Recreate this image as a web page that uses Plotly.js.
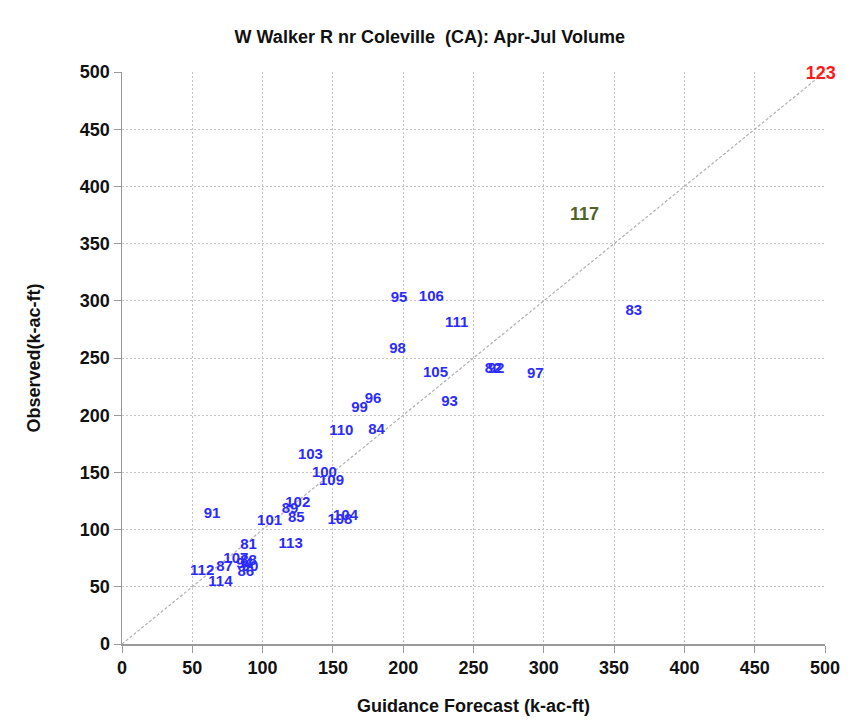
<!DOCTYPE html>
<html>
<head>
<meta charset="utf-8">
<script src="https://cdn.plot.ly/plotly-3.0.1.min.js"></script>
<style>
html,body{margin:0;padding:0;background:#fff;}
#chart{width:851px;height:728px;}
</style>
</head>
<body>
<div id="chart"></div>
<script>
// Water years (labels), guidance forecast (x) and observed (y), k-ac-ft
const yearLabels = ["81","82","83","84","85","86","87","88","89","90","91","92","93","94","95","96","97","98","99","100","101","102","103","104","105","106","107","108","109","110","111","112","113","114","117","123"];
const forecast   = [90, 264, 364, 181, 124, 88, 73, 90, 119.5, 91, 64, 266, 233, 87, 197, 178.5, 294, 196, 169, 144, 105, 125, 134, 159, 223, 220, 81, 155, 149, 156, 238, 57, 120, 70, 329, 497];
const observed   = [86.5, 240, 291, 187, 110, 63, 67, 72, 118, 67, 113, 240, 211, 70, 302, 214, 236, 258, 206, 149, 107.5, 123, 165, 112, 237, 303, 74, 108, 142, 186, 280, 64, 87, 54, 375, 498];
const labelColors = yearLabels.map(l => l === "123" ? "#ff1a1a" : (l === "117" ? "#4f6228" : "#2b2bff"));
const labelSizes  = yearLabels.map(l => (l === "123" || l === "117") ? 18 : 15);

const oneToOne = [0, 500];
const ticks = [0, 50, 100, 150, 200, 250, 300, 350, 400, 450, 500];

const FONT = "Liberation Sans, Arial, sans-serif";

const traces = [
  {x: oneToOne, y: oneToOne, mode: "lines", line: {color: "#b0b0b0", width: 1.2, dash: "3px,2px"}, hoverinfo: "skip", showlegend: false, cliponaxis: false},
  {x: forecast, y: observed, mode: "text", text: yearLabels, textposition: "middle center",
   textfont: {family: FONT, size: labelSizes, color: labelColors, weight: "bold"},
   showlegend: false, cliponaxis: false}
];

const axisCommon = {
  range: [0, 500], tickvals: ticks, ticktext: ticks.map(String),
  showgrid: true, gridcolor: "#c4c4c4", griddash: "2px,2px", gridwidth: 1,
  showline: true, linecolor: "#999999", linewidth: 1.5,
  ticks: "outside", ticklen: 7, tickcolor: "#999999", tickwidth: 1,
  zeroline: false, fixedrange: true,
  tickfont: {family: FONT, size: 18, color: "#111", weight: "bold"}
};

const layout = {
  width: 851, height: 728,
  paper_bgcolor: "#ffffff", plot_bgcolor: "#ffffff",
  margin: {l: 122, r: 26, t: 72, b: 84},
  title: {text: "W Walker R nr Coleville  (CA): Apr-Jul Volume", x: 0.505, xanchor: "center", y: 0.949, yanchor: "middle",
          font: {family: FONT, size: 18, color: "#111", weight: "bold"}},
  xaxis: Object.assign({}, axisCommon, {
    title: {text: "Guidance Forecast (k-ac-ft)", standoff: 22, font: {family: FONT, size: 18, color: "#111", weight: "bold"}}
  }),
  yaxis: Object.assign({}, axisCommon, {
    title: {text: "Observed(k-ac-ft)", standoff: 34, font: {family: FONT, size: 18, color: "#111", weight: "bold"}}
  }),
  showlegend: false
};

Plotly.newPlot("chart", traces, layout, {displayModeBar: false, staticPlot: true});
</script>
</body>
</html>
